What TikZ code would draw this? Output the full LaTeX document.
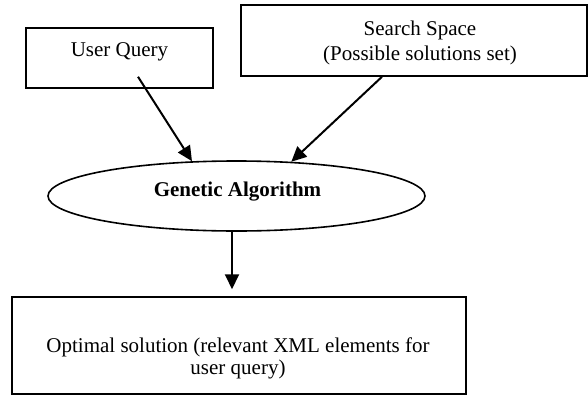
\documentclass[tikz,border=0pt]{standalone}
\usepackage{fontspec}
\setmainfont{Liberation Serif}
\usetikzlibrary{arrows.meta,shapes.geometric,calc}
\begin{document}
\begin{tikzpicture}[x=1pt,y=-1pt,
  framebox/.style={draw, line width=1.5pt, rectangle, inner sep=0pt},
  oval/.style={draw, line width=1.6pt, ellipse, inner sep=0pt},
  lbl/.style={align=center, inner sep=0pt, font=\fontsize{21}{25}\selectfont},
  flow/.style={line width=2pt, -{Triangle[length=15pt,width=14pt]}}]

\useasboundingbox (0,0) rectangle (588,396);

% input boxes
\node[framebox, minimum width=187pt, minimum height=60pt] (uq) at (119.5,58) {};
\node[lbl] (uqt) at (119.5,52) {User Query};

\node[framebox, minimum width=346pt, minimum height=71pt] (ss) at (414,40.5) {};
\node[lbl] (sst) at (420,42.5) {Search Space\\(Possible solutions set)};

% the algorithm
\node[oval, minimum width=377pt, minimum height=70pt] (ga) at (236.5,196) {};
\node[lbl, font=\fontsize{21}{25}\selectfont\bfseries] (gat) at (237.5,192) {Genetic Algorithm};

% result box
\node[framebox, minimum width=454pt, minimum height=97pt] (opt) at (239,345.5) {};
\node[lbl, font=\fontsize{21}{22}\selectfont] (optt) at (238,358)
  {Optimal solution (relevant XML elements for\\user query)};

% connectors
\coordinate (uqout) at ($(uq.south)+(18.5,-12)$);
\coordinate (ssout) at ($(ss.south)+(-32,0)$);
\coordinate (gaout) at ($(ga.south)+(-4.5,0)$);
\coordinate (optin) at ($(opt.north)+(-7,-7)$);

\draw[flow] (uqout) -- (ga.142);
\draw[flow] (ssout) -- (ga.32);
\draw[flow] (gaout) -- (optin);
\end{tikzpicture}
\end{document}
